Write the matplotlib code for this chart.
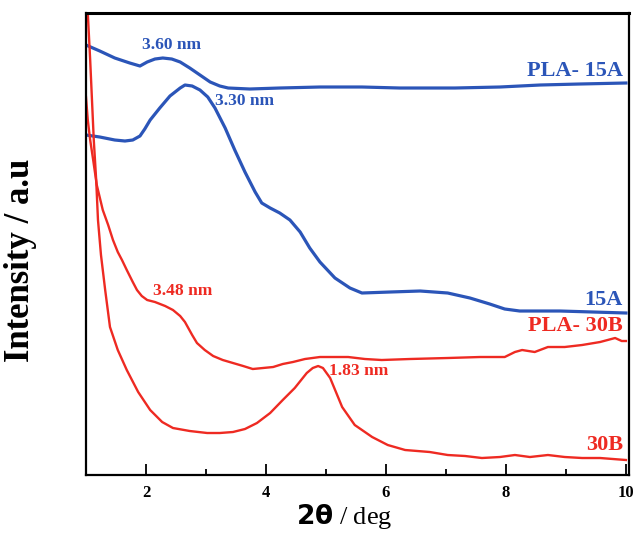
import matplotlib
matplotlib.use('Agg')
import matplotlib.pyplot as plt
from matplotlib.ticker import MultipleLocator

plt.rcParams['font.family'] = ['Liberation Serif', 'DejaVu Serif']

# intensities in arbitrary units (0 = bottom of frame)
pla15a_x = [1.0, 1.23, 1.48, 1.73, 1.9, 2.02, 2.15, 2.28, 2.43, 2.57, 2.73, 2.9, 3.07, 3.23,
            3.37, 3.73, 4.23, 4.9, 5.6, 6.23, 7.15, 7.9, 8.57, 9.23, 10.0]
pla15a_y = [430, 424, 417, 412, 409, 413, 416, 417, 416, 413, 407, 400, 393, 389,
            387, 386, 387, 388, 388, 387, 387, 388, 390, 391, 392]

a15_x = [1.0, 1.23, 1.48, 1.65, 1.78, 1.9, 1.98, 2.07, 2.23, 2.4, 2.57, 2.65, 2.77, 2.9,
         3.03, 3.15, 3.32, 3.48, 3.65, 3.82, 3.93, 4.07, 4.23, 4.4, 4.57, 4.73, 4.9, 5.15,
         5.4, 5.6, 6.07, 6.57, 7.03, 7.4, 7.73, 7.98, 8.23, 8.9, 10.0]
a15_y = [340, 338, 335, 334, 335, 339, 346, 355, 367, 379, 387, 390, 389, 385,
         378, 367, 347, 325, 303, 283, 272, 267, 262, 255, 243, 227, 213, 197,
         187, 182, 183, 184, 182, 177, 171, 166, 164, 164, 162]

pla30b_x = [1.0, 1.03, 1.07, 1.12, 1.18, 1.28, 1.37, 1.45, 1.53, 1.6, 1.68, 1.78, 1.85, 1.93,
            2.02, 2.15, 2.32, 2.45, 2.57, 2.65, 2.77, 2.85, 2.98, 3.12, 3.28, 3.45, 3.62,
            3.78, 3.95, 4.12, 4.28, 4.45, 4.65, 4.9, 5.15, 5.37, 5.65, 5.93, 6.4, 7.03,
            7.57, 7.98, 8.15, 8.27, 8.48, 8.7, 8.98, 9.27, 9.57, 9.82, 9.93, 10.0]
pla30b_y = [378, 355, 335, 315, 290, 265, 250, 235, 223, 215, 205, 193, 185, 179,
            175, 173, 169, 165, 159, 153, 140, 132, 125, 119, 115, 112, 109,
            106, 107, 108, 111, 113, 116, 118, 118, 118, 116, 115, 116, 117,
            118, 118, 123, 125, 123, 128, 128, 130, 133, 137, 134, 134]

b30_x = [1.03, 1.07, 1.1, 1.13, 1.17, 1.2, 1.25, 1.32, 1.4, 1.53, 1.68, 1.87, 2.07, 2.27,
         2.45, 2.73, 3.02, 3.23, 3.45, 3.65, 3.85, 4.07, 4.28, 4.48, 4.68, 4.78, 4.87,
         4.95, 5.07, 5.27, 5.48, 5.77, 6.03, 6.32, 6.73, 7.03, 7.32, 7.6, 7.9, 8.15,
         8.4, 8.7, 8.98, 9.27, 9.57, 10.0]
b30_y = [462, 415, 375, 335, 295, 255, 220, 185, 148, 125, 105, 83, 65, 53,
         47, 44, 42, 42, 43, 46, 52, 62, 75, 87, 102, 107, 109,
         107, 97, 68, 50, 38, 30, 25, 23, 20, 19, 17, 18, 20,
         18, 20, 18, 17, 17, 15]

blue = '#2b55b8'
red = '#ee2a22'

fig = plt.figure(figsize=(6.35, 5.33), dpi=100)
ax = fig.add_axes([0.1354, 0.1088, 0.855, 0.8668])

ax.plot(pla15a_x, pla15a_y, color=blue, lw=2.3, solid_joinstyle='round')
ax.plot(a15_x, a15_y, color=blue, lw=2.3, solid_joinstyle='round')
ax.plot(pla30b_x, pla30b_y, color=red, lw=1.7, solid_joinstyle='round')
ax.plot(b30_x, b30_y, color=red, lw=1.7, solid_joinstyle='round')

ax.set_xlim(1, 10.05)
ax.set_ylim(0, 462)
ax.xaxis.set_major_locator(MultipleLocator(2))
ax.xaxis.set_minor_locator(MultipleLocator(1))
ax.set_yticks([])
ax.tick_params(axis='x', which='major', direction='in', length=8, width=1.3, pad=7,
               labelsize=12)
ax.tick_params(axis='x', which='minor', direction='in', length=4, width=1.3)
for lab in ax.get_xticklabels():
    lab.set_fontweight('bold')
for s in ax.spines.values():
    s.set_linewidth(1.6)
ax.spines['top'].set_linewidth(2.2)

ax.set_ylabel('Intensity / a.u', fontsize=25, fontweight='bold')
ax.yaxis.set_label_coords(-0.09, 0.465)
ax.set_xlabel(r'$\mathbf{2\theta}$ / deg', fontsize=19)
ax.xaxis.set_label_coords(0.475, -0.058)

tk = dict(fontweight='bold', ha='center', va='center', fontsize=12.5)
ax.text(2.43, 430, '3.60 nm', color=blue, **tk)
ax.text(3.65, 374, '3.30 nm', color=blue, **tk)
ax.text(2.61, 184, '3.48 nm', color=red, **tk)
ax.text(5.55, 104, '1.83 nm', color=red, **tk)
lk = dict(fontweight='bold', ha='right', va='center', fontsize=16)
ax.text(9.95, 404, 'PLA- 15A', color=blue, **lk)
ax.text(9.95, 175, '15A', color=blue, **lk)
ax.text(9.95, 149, 'PLA- 30B', color=red, **lk)
ax.text(9.95, 30, '30B', color=red, **lk)

fig.savefig('out.png', dpi=100)
